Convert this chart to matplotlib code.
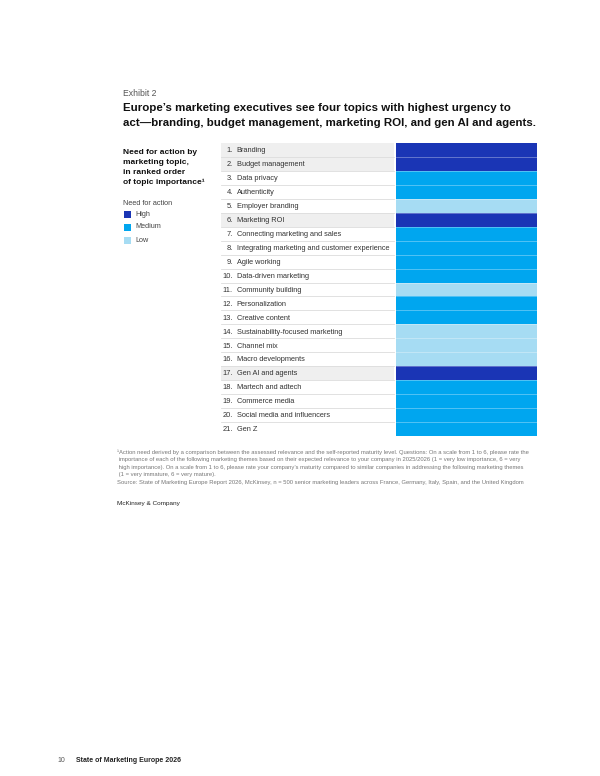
import matplotlib
matplotlib.use("Agg")
import matplotlib.pyplot as plt
from matplotlib.patches import Rectangle

W, H = 600, 776
plt.rcParams['font.family'] = ['Liberation Sans', 'DejaVu Sans']

topics = ["Branding", "Budget management", "Data privacy", "Authenticity",
          "Employer branding", "Marketing ROI", "Connecting marketing and sales",
          "Integrating marketing and customer experience", "Agile working",
          "Data-driven marketing", "Community building", "Personalization",
          "Creative content", "Sustainability-focused marketing", "Channel mix",
          "Macro developments", "Gen AI and agents", "Martech and adtech",
          "Commerce media", "Social media and influencers", "Gen Z"]
need = ["High", "High", "Medium", "Medium", "Low", "High", "Medium", "Medium",
        "Medium", "Medium", "Low", "Medium", "Medium", "Low", "Low", "Low",
        "High", "Medium", "Medium", "Medium", "Medium"]
levels = ["High", "Medium", "Low"]
level_colors = {"High": "#1a35b5", "Medium": "#00a6ef", "Low": "#a6dcf3"}

fig = plt.figure(figsize=(W / 100, H / 100), dpi=100)

def fx(x):
    return x / W

def fy(y):
    return 1 - y / H

def txt(x, y, s, **kw):
    fig.text(fx(x), fy(y), s, **kw)

# Header texts
txt(123, 93, "Exhibit 2", fontsize=6.2, color="#555555", va="center")
txt(123, 111, "Europe’s marketing executives see four topics with highest urgency to",
    fontsize=8.28, fontweight="bold", color="#111111", va="baseline")
txt(123, 125.5, "act—branding, budget management, marketing ROI, and gen AI and agents.",
    fontsize=8.28, fontweight="bold", color="#111111", va="baseline")

# Left description
for i, line in enumerate(["Need for action by", "marketing topic,", "in ranked order",
                          "of topic importance¹"]):
    txt(123, 154 + i * 10, line, fontsize=6.0, fontweight="bold", color="#111111",
        va="baseline")

txt(123, 205, "Need for action", fontsize=5.2, color="#444444", va="baseline")
for i, lv in enumerate(levels):
    yc = 214 + i * 13
    fig.patches.append(Rectangle((fx(124), fy(yc + 3.5)), 7 / W, 7 / H,
                                 transform=fig.transFigure, facecolor=level_colors[lv],
                                 edgecolor="none"))
    txt(135, yc, lv, fontsize=5.2, color="#444444", va="center")

# Table axes
x0, x1, y0, y1 = 221, 537, 143, 436
ax = fig.add_axes([fx(x0), fy(y1), (x1 - x0) / W, (y1 - y0) / H])
n = len(topics)
ax.set_xlim(0, 1)
ax.set_ylim(n, 0)
ax.axis("off")
split = (394 - x0) / (x1 - x0)
cstart = (396 - x0) / (x1 - x0)
rows = list(range(n))
bg = ["#efefef" if nd == "High" else "white" for nd in need]
ax.barh([r + 0.5 for r in rows], [split] * n, left=0, height=1.0, color=bg,
        edgecolor="none")
ax.barh([r + 0.5 for r in rows], [1 - cstart] * n, left=cstart, height=1.0,
        color=[level_colors[nd] for nd in need], edgecolor="none")
for r in range(1, n + 1):
    ax.plot([0, split], [r, r], color="#dcdcdc", lw=0.6)
for r in range(1, n):
    ax.plot([cstart, 1], [r, r], color="white", lw=0.5, alpha=0.45)
for r, t in enumerate(topics):
    ax.text(0.038, r + 0.55, f"{r + 1}.", ha="right", va="center", fontsize=5.4,
            color="#333333")
    ax.text(0.05, r + 0.55, t, ha="left", va="center", fontsize=5.3, color="#333333")

# Footnote
foot = [
    "¹Action need derived by a comparison between the assessed relevance and the self-reported maturity level. Questions: On a scale from 1 to 6, please rate the",
    " importance of each of the following marketing themes based on their expected relevance to your company in 2025/2026 (1 = very low importance, 6 = very",
    " high importance). On a scale from 1 to 6, please rate your company’s maturity compared to similar companies in addressing the following marketing themes",
    " (1 = very immature, 6 = very mature).",
    "Source: State of Marketing Europe Report 2026, McKinsey, n = 500 senior marketing leaders across France, Germany, Italy, Spain, and the United Kingdom",
]
for i, line in enumerate(foot):
    txt(117, 452 + i * 7.6, line, fontsize=4.2, color="#777777", va="center")

txt(117, 503, "McKinsey & Company", fontsize=4.6, color="#222222", va="center")
txt(57, 761, "10", fontsize=5.0, color="#555555", va="center")
txt(76, 761, "State of Marketing Europe 2026", fontsize=5.0, fontweight="bold",
    color="#222222", va="center")

fig.savefig("out.png", dpi=100)
